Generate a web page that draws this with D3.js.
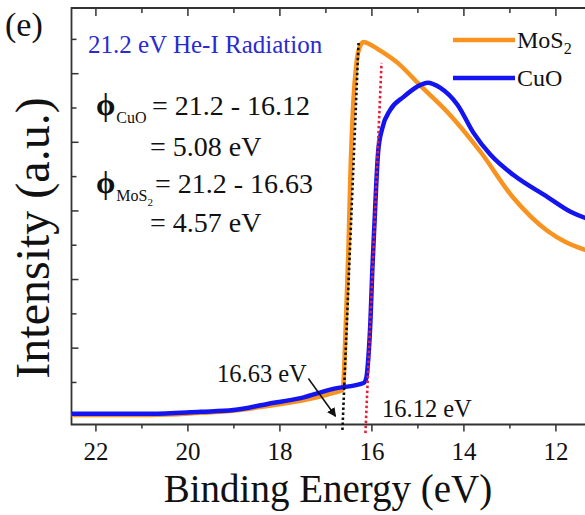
<!DOCTYPE html>
<html>
<head>
<meta charset="utf-8">
<script src="https://cdn.jsdelivr.net/npm/d3@7"></script>
<style>
  body { margin: 0; background: #fff; }
  svg text { font-family: "Liberation Serif", "Times New Roman", Times, "DejaVu Serif", serif; fill: #111; }
</style>
</head>
<body>
<div id="vis"></div>
<script>
// UPS spectra (binding energy in eV, intensity in a.u.)
const energyMoS2 = [22.52, 20.80, 19.72, 19.07, 18.26, 17.54, 16.83, 16.63, 16.61, 16.57, 16.50, 16.46, 16.39, 16.33, 16.26, 16.17, 16.02, 15.80, 15.43, 14.93, 14.35, 13.63, 12.91, 12.17, 11.78, 11.35, 11.0];
const intensityMoS2 = [0.04, 0.04, 0.10, 0.15, 0.30, 0.45, 0.68, 0.77, 0.91, 2.22, 4.85, 6.89, 9.22, 10.24, 10.74, 10.91, 10.83, 10.65, 10.30, 9.63, 8.87, 7.71, 6.36, 5.40, 5.08, 4.85, 4.70];
const energyCuO = [22.52, 20.80, 19.72, 19.0, 18.26, 17.54, 16.83, 16.17, 16.11, 16.07, 16.02, 15.98, 15.93, 15.89, 15.85, 15.76, 15.59, 15.30, 14.93, 14.78, 14.50, 14.13, 13.78, 13.41, 12.91, 12.17, 11.67, 11.35, 11.0];
const intensityCuO = [0.07, 0.07, 0.13, 0.18, 0.36, 0.53, 0.80, 0.97, 1.12, 1.64, 2.81, 4.27, 5.72, 6.89, 7.76, 8.41, 8.93, 9.31, 9.66, 9.72, 9.57, 9.08, 8.26, 7.62, 7.03, 6.39, 5.96, 5.78, 5.65];

// secondary electron cutoff fits (dotted lines)
const cutoffEnergyMoS2 = [16.63, 16.28];
const cutoffIntensityMoS2 = [-0.40, 10.88];
const cutoffEnergyCuO = [16.13, 15.78];
const cutoffIntensityCuO = [-0.49, 10.30];

const majorTicks = [22, 20, 18, 16, 14, 12];
const minorTicks = [21, 19, 17, 15, 13, 11];
const yTicks = [1, 2, 3, 4, 5, 6, 7, 8, 9, 10, 11];

const width = 585;
const height = 515;
const orange = "#f7931e";
const blue = "#1414f0";
const serif = "'Liberation Serif', 'Times New Roman', Times, 'DejaVu Serif', serif";

const x = d3.scaleLinear().domain([22.52, 11.0]).range([71.5, 601.4]);
const y = d3.scaleLinear().domain([-0.24, 11.9]).range([424.5, 8]);

const svg = d3.select("#vis").append("svg")
  .attr("width", width)
  .attr("height", height)
  .attr("font-family", serif);

svg.append("defs").append("clipPath").attr("id", "plot")
  .append("rect").attr("x", 71.5).attr("y", 8).attr("width", 600).attr("height", 416.5);

// bottom axis, major ticks with labels and minor ticks
const bottomAxis = svg.append("g").attr("transform", "translate(0,424.5)");
bottomAxis.call(d3.axisBottom(x).tickValues(majorTicks).tickSize(7).tickFormat(d3.format("d")));
bottomAxis.append("g").call(d3.axisBottom(x).tickValues(minorTicks).tickSize(4).tickFormat(""));
bottomAxis.attr("font-family", serif);
bottomAxis.selectAll("path.domain").remove();
bottomAxis.selectAll("line").attr("stroke", "#333").attr("stroke-width", 1.5);
bottomAxis.selectAll("text")
  .attr("y", 35.5).attr("dy", 0)
  .style("font-size", "25px")
  .style("font-family", serif)
  .attr("fill", "#111");

// mirrored top ticks point into the plot
const topAxis = svg.append("g").attr("transform", "translate(0,8)");
topAxis.call(d3.axisBottom(x).tickValues(majorTicks).tickSize(8).tickFormat(""));
topAxis.append("g").call(d3.axisBottom(x).tickValues(minorTicks).tickSize(5).tickFormat(""));
topAxis.selectAll("path.domain").remove();
topAxis.selectAll("line").attr("stroke", "#333").attr("stroke-width", 1.5);

// left axis, inward ticks, no labels
const leftAxis = svg.append("g").attr("transform", "translate(71.5,0)");
leftAxis.call(d3.axisRight(y).tickValues(yTicks).tickSize(6).tickFormat(""));
leftAxis.selectAll("path.domain").remove();
leftAxis.selectAll("line").attr("stroke", "#333").attr("stroke-width", 1.5)
  .attr("x2", d => (d % 2 === 0 ? 7 : 5));

// frame lines
svg.append("path")
  .attr("d", d3.line()([[x(11.0), 8], [71.5, 8], [71.5, 424.5], [x(11.0), 424.5]]))
  .attr("fill", "none")
  .attr("stroke", "#333")
  .attr("stroke-width", 1.8);

const line = d3.line()
  .x(d => x(d[0]))
  .y(d => y(d[1]))
  .curve(d3.curveMonotoneX);

const curves = svg.append("g").attr("clip-path", "url(#plot)");

curves.append("path")
  .datum(d3.zip(energyMoS2, intensityMoS2))
  .attr("d", line)
  .attr("fill", "none")
  .attr("stroke", orange)
  .attr("stroke-width", 4.5)
  .attr("stroke-linejoin", "round");

curves.append("path")
  .datum(d3.zip(energyCuO, intensityCuO))
  .attr("d", line)
  .attr("fill", "none")
  .attr("stroke", blue)
  .attr("stroke-width", 4.5)
  .attr("stroke-linejoin", "round");

// dotted cutoff lines
const straight = d3.line().x(d => x(d[0])).y(d => y(d[1]));
svg.append("path")
  .datum(d3.zip(cutoffEnergyMoS2, cutoffIntensityMoS2))
  .attr("d", straight)
  .attr("stroke", "#111")
  .attr("stroke-width", 2.6)
  .attr("stroke-dasharray", "2.5,2.5")
  .attr("fill", "none");
svg.append("path")
  .datum(d3.zip(cutoffEnergyCuO, cutoffIntensityCuO))
  .attr("d", straight)
  .attr("stroke", "#e3203a")
  .attr("stroke-width", 2.6)
  .attr("stroke-dasharray", "2.5,2.5")
  .attr("fill", "none");

// arrow to the MoS2 cutoff
svg.append("defs").append("marker")
  .attr("id", "head")
  .attr("viewBox", "0 0 10 10")
  .attr("refX", 9).attr("refY", 5)
  .attr("markerWidth", 9).attr("markerHeight", 9)
  .attr("markerUnits", "userSpaceOnUse")
  .attr("orient", "auto")
  .append("path").attr("d", "M0,0L10,5L0,10z").attr("fill", "#111");
svg.append("line")
  .attr("x1", x(17.37)).attr("y1", y(1.10))
  .attr("x2", x(16.78)).attr("y2", y(0.0))
  .attr("stroke", "#111")
  .attr("stroke-width", 1.5)
  .attr("marker-end", "url(#head)");

// labels
function label(px, py, size, str) {
  return svg.append("text")
    .attr("x", px).attr("y", py)
    .style("font-family", serif)
    .style("font-size", size + "px")
    .text(str);
}

label(5, 36, 34, "(e)");
label(88, 53, 25, "21.2 eV He-I Radiation").style("fill", "#2a2ad0");

// work function lines: phi, subscript, then the rest placed after the subscript
function phiLine(yb, sub, sub2, rest) {
  const phi = label(96, yb, 31, "ϕ").style("font-weight", "bold");
  const subX = 96 + phi.node().getComputedTextLength() + 1;
  const s = label(subX, yb + 8, 16, sub);
  if (sub2) s.append("tspan").attr("dy", 5).style("font-size", "11px").text(sub2);
  const restX = Math.max(152, subX + s.node().getComputedTextLength() + 2);
  label(restX, yb, 28, rest);
}
phiLine(115, "CuO", null, "= 21.2 - 16.12");
label(150, 156, 28, "= 5.08 eV");
phiLine(193, "MoS", "2", "= 21.2 - 16.63");
label(150, 232, 28, "= 4.57 eV");

label(217, 382, 24.5, "16.63 eV");
label(382, 417, 24.5, "16.12 eV");

// legend
const legend = [{ name: "MoS", sub: "2", color: orange, y: 40 }, { name: "CuO", sub: null, color: blue, y: 78 }];
legend.forEach(d => {
  svg.append("line")
    .attr("x1", 453).attr("x2", 515).attr("y1", d.y).attr("y2", d.y)
    .attr("stroke", d.color).attr("stroke-width", 4.5);
  const t = label(517, d.y + 8, 24, d.name);
  if (d.sub) t.append("tspan").attr("dy", 6).style("font-size", "16px").text(d.sub);
});

// axis titles
label(0, 0, 48, "Intensity (a.u.)")
  .attr("transform", "translate(49,238) rotate(-90)")
  .attr("text-anchor", "middle");

label(328, 502, 39, "Binding Energy (eV)")
  .attr("text-anchor", "middle");
</script>
</body>
</html>
